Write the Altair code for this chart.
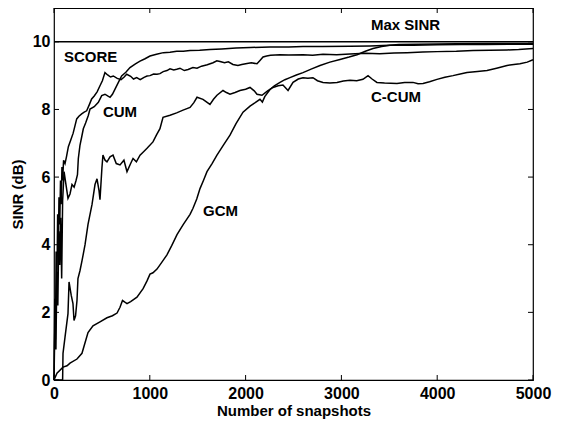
import altair as alt
import pandas as pd

# ---- data ----
max_x = [0, 5000]
max_y = [10, 10]

score_x = [0, 8, 15, 22, 30, 38, 45, 52, 60, 68,
           75, 83, 90, 100, 115, 130, 150, 175, 200, 237,
           260, 289, 315, 341, 370, 393, 420, 450, 480, 505,
           532, 560, 590, 619, 660, 700, 730, 759, 800, 830,
           863, 900, 940, 971, 1002, 1040, 1075, 1106, 1140, 1179,
           1211, 1250, 1281, 1315, 1360, 1400, 1450, 1493, 1540, 1600,
           1660, 1700, 1733, 1780, 1820, 1868, 1920, 1960, 2015, 2060,
           2119, 2150, 2182, 2220, 2260, 2359, 2450, 2599, 2700, 2808,
           2950, 3090, 3250, 3400, 3550, 3685, 3850, 4000, 4200, 4374,
           4550, 4729, 4850, 5000]
score_y = [0, 2.4, 1.2, 3.8, 2.6, 4.9, 3.9, 5.4, 4.6, 5.9,
           5.2, 6.3, 5.9, 6.5, 6.4, 6.6, 6.9, 7.1, 7.3, 7.72,
           7.8, 7.87, 7.92, 7.96, 8.15, 8.31, 8.4, 8.52, 8.70, 8.85,
           9.09, 9.02, 8.96, 8.99, 8.92, 8.88, 8.95, 9.04, 8.98, 8.9,
           8.94, 8.88, 8.95, 8.99, 9.0, 9.05, 9.04, 9.06, 9.12, 9.15,
           9.2, 9.17, 9.19, 9.22, 9.15, 9.18, 9.24, 9.22, 9.28, 9.32,
           9.38, 9.44, 9.42, 9.38, 9.41, 9.33, 9.3, 9.33, 9.36, 9.38,
           9.35, 9.45, 9.55, 9.58, 9.6, 9.62, 9.61, 9.62, 9.6, 9.63,
           9.62, 9.64, 9.66, 9.65, 9.67, 9.68, 9.7, 9.71, 9.72, 9.74,
           9.75, 9.76, 9.77, 9.8]

cum_x = [0, 10, 20, 30, 40, 50, 60, 70, 80, 90,
         105, 125, 146, 167, 188, 210, 230, 245, 254, 271,
         290, 306, 330, 358, 376, 420, 463, 498, 532, 560,
         585, 610, 637, 672, 706, 750, 793, 850, 898, 950,
         1002, 1070, 1141, 1211, 1281, 1350, 1420, 1520, 1628, 1750,
         1900, 2050, 2255, 2450, 2599, 2800, 3090, 3300, 3500, 3750,
         4000, 4250, 4500, 4750, 5000]
cum_y = [0, 1.8, 0.9, 3.2, 2.2, 4.4, 3.4, 4.8, 3.0, 5.3,
         6.16, 5.78, 5.37, 5.5, 5.78, 5.7, 5.9, 6.07, 6.55, 6.94,
         7.2, 7.43, 7.6, 7.82, 8.01, 8.08, 8.21, 8.41, 8.45, 8.4,
         8.36, 8.45, 8.6, 8.8, 8.99, 9.1, 9.24, 9.35, 9.43, 9.5,
         9.58, 9.63, 9.68, 9.69, 9.72, 9.72, 9.74, 9.75, 9.77, 9.79,
         9.82, 9.83, 9.85, 9.85, 9.86, 9.86, 9.87, 9.88, 9.9, 9.9,
         9.91, 9.92, 9.92, 9.93, 9.93]

ccum_x = [0, 90, 94, 115, 146, 157, 180, 198, 209, 225,
          240, 250, 271, 292, 324, 355, 397, 428, 449, 470,
          480, 500, 511, 533, 553, 585, 616, 650, 689, 730,
          762, 800, 825, 860, 898, 935, 971, 1033, 1070, 1106,
          1138, 1211, 1280, 1347, 1420, 1460, 1493, 1555, 1628, 1665,
          1701, 1764, 1800, 1837, 1890, 1941, 2000, 2046, 2090, 2119,
          2171, 2230, 2286, 2340, 2390, 2443, 2495, 2550, 2599, 2650,
          2703, 2750, 2808, 2880, 2954, 3020, 3090, 3160, 3225, 3278,
          3320, 3371, 3450, 3580, 3660, 3747, 3800, 3852, 3920, 3998,
          4080, 4165, 4240, 4311, 4420, 4520, 4620, 4729, 4800, 4864,
          4940, 5000]
ccum_y = [0, 0, 0.79, 1.27, 1.96, 2.9, 2.5, 2.26, 1.76, 1.9,
          2.35, 3.0, 3.23, 3.52, 4.0, 4.6, 5.19, 5.78, 5.95, 5.6,
          5.33, 6.26, 6.65, 6.5, 6.45, 6.6, 6.65, 6.4, 6.36, 6.5,
          6.16, 6.4, 6.55, 6.45, 6.65, 6.75, 6.85, 7.04, 7.25, 7.43,
          7.77, 7.83, 7.9, 7.98, 8.06, 8.2, 8.36, 8.3, 8.15, 8.3,
          8.42, 8.56, 8.5, 8.45, 8.5, 8.56, 8.6, 8.65, 8.55, 8.45,
          8.42, 8.55, 8.65, 8.7, 8.72, 8.56, 8.8, 8.9, 8.94, 8.92,
          8.94, 8.85, 8.8, 8.78, 8.8, 8.84, 8.86, 8.85, 8.89, 9.0,
          8.9, 8.8, 8.78, 8.77, 8.8, 8.8, 8.76, 8.77, 8.82, 8.89,
          8.95, 9.0, 9.05, 9.09, 9.12, 9.15, 9.22, 9.3, 9.33, 9.35,
          9.4, 9.47]

gcm_x = [0, 31, 94, 136, 167, 240, 292, 324, 355, 407,
         480, 553, 610, 658, 689, 715, 740, 762, 800, 866,
         930, 971, 1002, 1033, 1075, 1130, 1179, 1230, 1284, 1350,
         1420, 1451, 1490, 1524, 1560, 1597, 1650, 1701, 1770, 1837,
         1900, 1973, 2046, 2100, 2150, 2175, 2200, 2255, 2300, 2359,
         2410, 2463, 2530, 2599, 2690, 2777, 2880, 2985, 3080, 3163,
         3250, 3330, 3420, 3507, 3600, 3800, 4200, 4600, 5000]
gcm_y = [0, 0.2, 0.38, 0.42, 0.5, 0.62, 0.79, 1.1, 1.4, 1.6,
         1.72, 1.84, 1.9, 1.98, 2.15, 2.35, 2.3, 2.26, 2.32, 2.45,
         2.7, 2.93, 3.13, 3.17, 3.28, 3.5, 3.7, 3.98, 4.3, 4.6,
         4.9, 5.08, 5.35, 5.66, 5.9, 6.16, 6.4, 6.65, 6.95, 7.24,
         7.58, 7.92, 8.1, 8.2, 8.3, 8.22, 8.38, 8.59, 8.7, 8.8,
         8.88, 8.94, 9.02, 9.09, 9.2, 9.3, 9.4, 9.48, 9.55, 9.62,
         9.72, 9.8, 9.86, 9.9, 9.92, 9.93, 9.94, 9.95, 9.95]

label_text = ["Max SINR", "SCORE", "CUM", "C-CUM", "GCM"]
label_x = [3309, 104, 511, 3309, 1555]
label_y = [10.5, 9.55, 7.92, 8.37, 5.0]

x_ticks = [0, 1000, 2000, 3000, 4000, 5000]
y_ticks = [0, 2, 4, 6, 8, 10]

# ---- build tables ----
series = {
    "Max SINR": (max_x, max_y),
    "SCORE": (score_x, score_y),
    "CUM": (cum_x, cum_y),
    "C-CUM": (ccum_x, ccum_y),
    "GCM": (gcm_x, gcm_y),
}
rows = []
for name, (xs, ys) in series.items():
    assert len(xs) == len(ys), name
    for xv, yv in zip(xs, ys):
        rows.append({"series": name, "x": xv, "y": yv})
lines_df = pd.DataFrame(rows)
labels_df = pd.DataFrame({"text": label_text, "x": label_x, "y": label_y})
xt_df = pd.DataFrame({"v": x_ticks})
yt_df = pd.DataFrame({"v": y_ticks})

W, H = 479, 372
FONT = "Liberation Sans"

xscale = alt.Scale(domain=[0, 5000], nice=False)
yscale = alt.Scale(domain=[0, 11], nice=False)

lines = alt.Chart(lines_df).mark_line(color="black", strokeWidth=1.5).encode(
    x=alt.X("x:Q", scale=xscale,
            axis=alt.Axis(title="Number of snapshots", values=x_ticks, format="d",
                          tickSize=0, labelPadding=5, titlePadding=2,
                          labelFlush=False)),
    y=alt.Y("y:Q", scale=yscale,
            axis=alt.Axis(title="SINR (dB)", values=y_ticks, format="d",
                          tickSize=0, labelPadding=4, titlePadding=7,
                          labelFlush=False)),
    detail="series:N",
)

text = alt.Chart(labels_df).mark_text(
    align="left", baseline="middle", font=FONT, fontSize=15, fontWeight="bold", color="black"
).encode(x=alt.X("x:Q", scale=xscale), y=alt.Y("y:Q", scale=yscale), text="text:N")

tl = 5
xb = alt.Chart(xt_df).mark_rule(color="black", strokeWidth=1).encode(
    x=alt.X("v:Q", scale=xscale), y=alt.value(H), y2=alt.value(H - tl))
xtop = alt.Chart(xt_df).mark_rule(color="black", strokeWidth=1).encode(
    x=alt.X("v:Q", scale=xscale), y=alt.value(0), y2=alt.value(tl))
yl = alt.Chart(yt_df).mark_rule(color="black", strokeWidth=1).encode(
    y=alt.Y("v:Q", scale=yscale), x=alt.value(0), x2=alt.value(tl))
yr = alt.Chart(yt_df).mark_rule(color="black", strokeWidth=1).encode(
    y=alt.Y("v:Q", scale=yscale), x=alt.value(W), x2=alt.value(W - tl))

chart = alt.layer(lines, text, xb, xtop, yl, yr).properties(
    width=W, height=H,
    autosize=alt.AutoSizeParams(type="none"),
    padding={"left": 46, "top": 0, "right": 20, "bottom": 42},
).configure_view(
    stroke="black", strokeWidth=1.2
).configure_axis(
    grid=False, domain=False,
    labelFont=FONT, titleFont=FONT,
    labelFontSize=16, titleFontSize=15,
    labelFontWeight="bold", titleFontWeight="bold",
    labelColor="black", titleColor="black",
)

chart.save("out.html", embed_options={"renderer": "svg", "actions": False})
